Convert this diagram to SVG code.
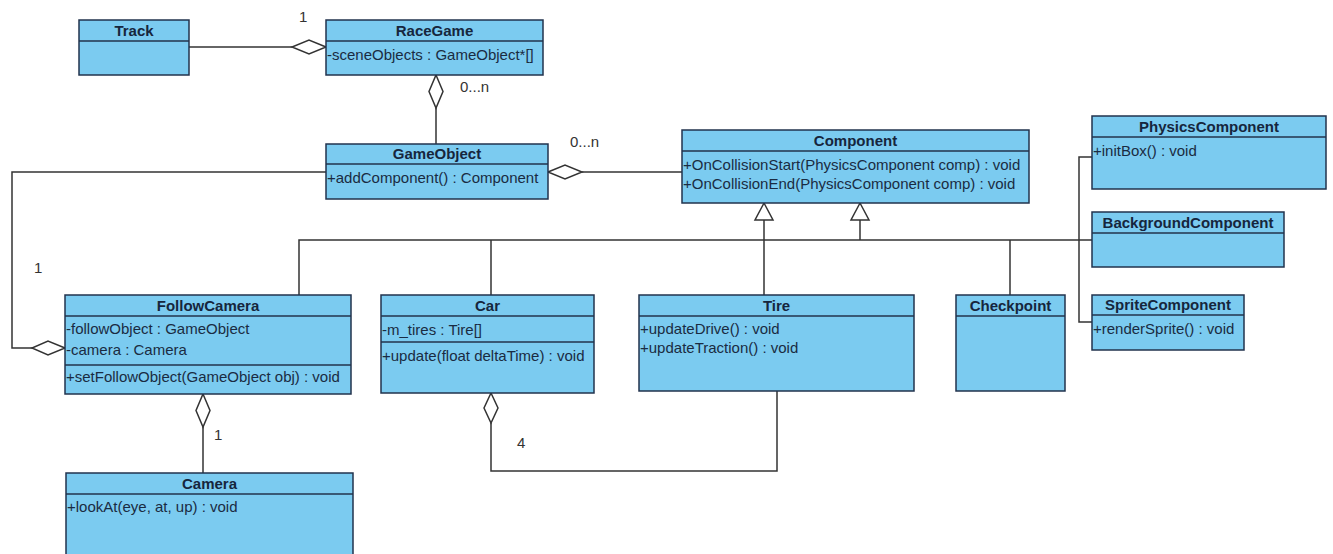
<svg xmlns="http://www.w3.org/2000/svg" width="1333" height="554" viewBox="0 0 1333 554">
<style>
.box{fill:#7BCBF0;stroke:#22334D;stroke-width:1.5}
.sep{stroke:#22334D;stroke-width:1.5}
.t{font-family:"Liberation Sans",Arial,sans-serif;font-size:15px;font-weight:bold;fill:#16263D;text-anchor:middle}
.m{font-family:"Liberation Sans",Arial,sans-serif;font-size:15px;fill:#1A2B42}
.l{font-family:"Liberation Sans",Arial,sans-serif;font-size:15px;fill:#333}
.c{fill:none;stroke:#333;stroke-width:1.5}
.d{fill:#fff;stroke:#333;stroke-width:1.5}
</style>
<rect width="1333" height="554" fill="#fff"/>
<g id="connectors">
<polyline class="c" points="189,47 292,47"/>
<polygon class="d" points="326,47 309,40 292,47 309,54"/>
<text class="l" x="299" y="22">1</text>
<polyline class="c" points="436,108 436,144"/>
<polygon class="d" points="436,75 443,91.5 436,108 429,91.5"/>
<text class="l" x="460" y="92">0...n</text>
<polyline class="c" points="582,172 682,172"/>
<polygon class="d" points="548,172 565,165 582,172 565,179"/>
<text class="l" x="570" y="147">0...n</text>
<polyline class="c" points="326,172 12,172 12,348 32,348"/>
<polygon class="d" points="65,348 48,341 32,348 48,355"/>
<text class="l" x="34" y="273">1</text>
<polyline class="c" points="203,427 203,473"/>
<polygon class="d" points="203,394 210,410.5 203,427 196,410.5"/>
<text class="l" x="214" y="440">1</text>
<polyline class="c" points="491,423 491,471 777,471 777,391"/>
<polygon class="d" points="491,393 498,408 491,423 484,408"/>
<text class="l" x="517" y="448">4</text>
<polyline class="c" points="764,220 764,295"/>
<polygon class="d" points="764,203 755,220 773,220"/>
<polyline class="c" points="860,220 860,240"/>
<polygon class="d" points="860,203 851,220 869,220"/>
<polyline class="c" points="299,295 299,240 1092,240"/>
<polyline class="c" points="491,240 491,295"/>
<polyline class="c" points="1010,240 1010,295"/>
<polyline class="c" points="1092,157 1079,157 1079,322 1092,322"/>
</g>
<g id="Track">
<rect class="box" x="79" y="20" width="110" height="55"/>
<line class="sep" x1="79" y1="41" x2="189" y2="41"/>
<text class="t" x="134" y="36">Track</text>
</g>
<g id="RaceGame">
<rect class="box" x="326" y="20" width="217" height="55"/>
<line class="sep" x1="326" y1="41" x2="543" y2="41"/>
<text class="t" x="434.5" y="36">RaceGame</text>
<text class="m" x="327" y="60">-sceneObjects : GameObject*[]</text>
</g>
<g id="GameObject">
<rect class="box" x="326" y="144" width="222" height="55"/>
<line class="sep" x1="326" y1="164" x2="548" y2="164"/>
<text class="t" x="437" y="159">GameObject</text>
<text class="m" x="327" y="183">+addComponent() : Component</text>
</g>
<g id="Component">
<rect class="box" x="682" y="130" width="347" height="73"/>
<line class="sep" x1="682" y1="151" x2="1029" y2="151"/>
<text class="t" x="855.5" y="146">Component</text>
<text class="m" x="683" y="170">+OnCollisionStart(PhysicsComponent comp) : void</text>
<text class="m" x="683" y="189">+OnCollisionEnd(PhysicsComponent comp) : void</text>
</g>
<g id="PhysicsComponent">
<rect class="box" x="1092" y="116" width="234" height="73"/>
<line class="sep" x1="1092" y1="137" x2="1326" y2="137"/>
<text class="t" x="1209" y="132">PhysicsComponent</text>
<text class="m" x="1093" y="156">+initBox() : void</text>
</g>
<g id="BackgroundComponent">
<rect class="box" x="1092" y="212" width="192" height="55"/>
<line class="sep" x1="1092" y1="233" x2="1284" y2="233"/>
<text class="t" x="1188" y="228">BackgroundComponent</text>
</g>
<g id="SpriteComponent">
<rect class="box" x="1092" y="295" width="152" height="55"/>
<line class="sep" x1="1092" y1="315" x2="1244" y2="315"/>
<text class="t" x="1168" y="310">SpriteComponent</text>
<text class="m" x="1093" y="334">+renderSprite() : void</text>
</g>
<g id="FollowCamera">
<rect class="box" x="65" y="295" width="286" height="99"/>
<line class="sep" x1="65" y1="316" x2="351" y2="316"/>
<line class="sep" x1="65" y1="365" x2="351" y2="365"/>
<text class="t" x="208" y="311">FollowCamera</text>
<text class="m" x="66" y="334">-followObject : GameObject</text>
<text class="m" x="66" y="355">-camera : Camera</text>
<text class="m" x="66" y="382">+setFollowObject(GameObject obj) : void</text>
</g>
<g id="Car">
<rect class="box" x="381" y="295" width="213" height="98"/>
<line class="sep" x1="381" y1="316" x2="594" y2="316"/>
<line class="sep" x1="381" y1="342" x2="594" y2="342"/>
<text class="t" x="487.5" y="311">Car</text>
<text class="m" x="382" y="335">-m_tires : Tire[]</text>
<text class="m" x="382" y="361">+update(float deltaTime) : void</text>
</g>
<g id="Tire">
<rect class="box" x="639" y="295" width="275" height="96"/>
<line class="sep" x1="639" y1="316" x2="914" y2="316"/>
<text class="t" x="776.5" y="311">Tire</text>
<text class="m" x="640" y="334">+updateDrive() : void</text>
<text class="m" x="640" y="353">+updateTraction() : void</text>
</g>
<g id="Checkpoint">
<rect class="box" x="956" y="295" width="109" height="96"/>
<line class="sep" x1="956" y1="316" x2="1065" y2="316"/>
<text class="t" x="1010.5" y="311">Checkpoint</text>
</g>
<g id="Camera">
<rect class="box" x="66" y="473" width="287" height="95"/>
<line class="sep" x1="66" y1="494" x2="353" y2="494"/>
<text class="t" x="209.5" y="489">Camera</text>
<text class="m" x="67" y="512">+lookAt(eye, at, up) : void</text>
</g>
</svg>
